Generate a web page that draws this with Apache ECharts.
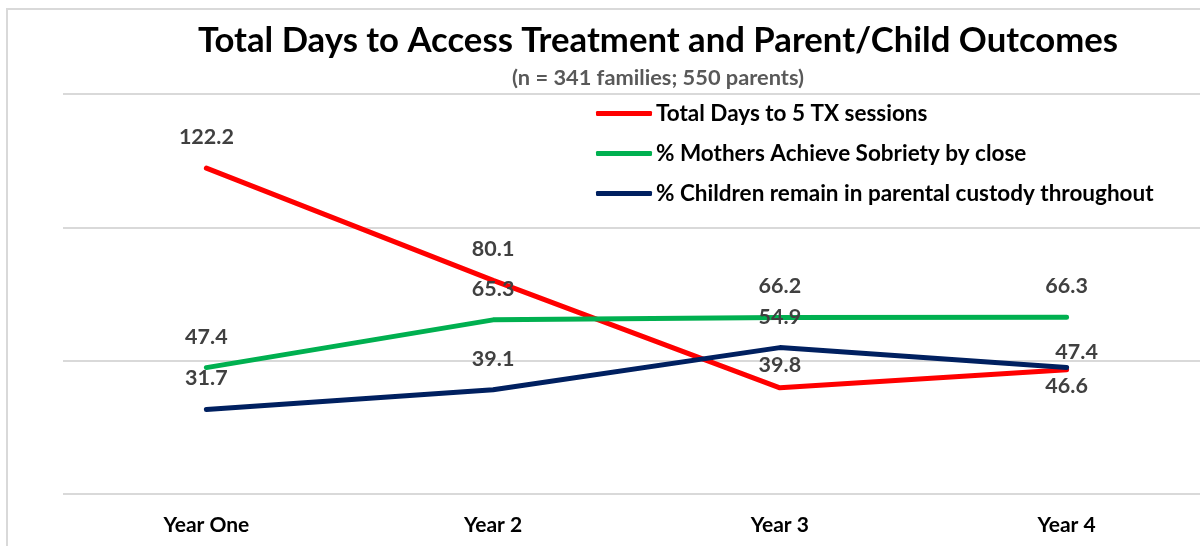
<!DOCTYPE html>
<html><head><meta charset="utf-8">
<script src="https://cdn.jsdelivr.net/npm/echarts@6/dist/echarts.min.js"></script>
<style>html,body{margin:0;padding:0;overflow:hidden;background:#fff}#c{width:1212px;height:546px}</style>
</head><body><div id="c"></div>
<script>
const categories = ['Year One', 'Year 2', 'Year 3', 'Year 4'];
const seriesNames = ['Total Days to 5 TX sessions', '% Mothers Achieve Sobriety by close', '% Children remain in parental custody throughout'];
const totalDays = [122.2, 80.1, 39.8, 46.6];
const mothersSobriety = [47.4, 65.3, 66.2, 66.3];
const childrenCustody = [31.7, 39.1, 54.9, 47.4];
const yTicks = [0, 50, 100, 150];

const FONT = 'Lato';
const colors = ['#ff0000', '#00b050', '#002060'];
// per-point label tweaks (style only)
const labelTweaks = {
  0: {2: {distance: 12}, 3: {position: 'bottom', distance: 5}},
  2: {3: {distance: 5, padding: [0, 0, 0, 20]}}
};
function mk(idx, vals) {
  return {
    name: seriesNames[idx], type: 'line', symbol: 'circle', symbolSize: 0, showSymbol: true, smooth: false,
    lineStyle: {width: 5, color: colors[idx], cap: 'round'},
    itemStyle: {color: colors[idx]},
    label: {show: true, position: 'top', distance: 20, color: '#404040', fontFamily: FONT, fontWeight: 'bold', fontSize: 21.5},
    labelLayout: {hideOverlap: false},
    data: vals.map((v, i) => {
      const t = (labelTweaks[idx] || {})[i];
      return t ? {value: v, label: t} : v;
    })
  };
}
const chart = echarts.init(document.getElementById('c'));
chart.setOption({
  animation: false,
  textStyle: {fontFamily: FONT},
  graphic: [{type: 'rect', shape: {x: 7, y: 9, width: 1400, height: 700}, style: {fill: 'none', stroke: '#d9d9d9', lineWidth: 2}, silent: true}],
  title: [
    {text: 'Total Days to Access Treatment and Parent/Child Outcomes', left: 653, textAlign: 'center', top: 18,
     textStyle: {fontFamily: FONT, fontWeight: 'bold', fontSize: 34.7, color: '#000'}},
    {text: '(n = 341 families; 550 parents)', left: 653, textAlign: 'center', top: 62,
     textStyle: {fontFamily: FONT, fontWeight: 'bold', fontSize: 21.8, color: '#595959'}}
  ],
  legend: {
    orient: 'vertical', left: 591, top: 97, icon: 'roundRect', itemWidth: 56, itemHeight: 5, itemGap: 17,
    textStyle: {fontFamily: FONT, fontWeight: 'bold', fontSize: 22.5, color: '#000', lineHeight: 22, padding: [0, 0, 0, -1]},
    data: seriesNames
  },
  grid: {left: 63, right: 2, top: 94, bottom: 52, containLabel: false},
  xAxis: {type: 'category', data: categories, boundaryGap: true,
    axisLine: {show: false}, axisTick: {show: false},
    axisLabel: {color: '#000', fontFamily: FONT, fontWeight: 'bold', fontSize: 21, margin: 21}},
  yAxis: {type: 'value', min: yTicks[0], max: yTicks[yTicks.length - 1], interval: 50,
    axisLabel: {show: false}, axisLine: {show: false}, axisTick: {show: false},
    splitLine: {lineStyle: {color: '#d9d9d9', width: 2}}},
  series: [mk(0, totalDays), mk(1, mothersSobriety), mk(2, childrenCustody)]
});
</script></body></html>
